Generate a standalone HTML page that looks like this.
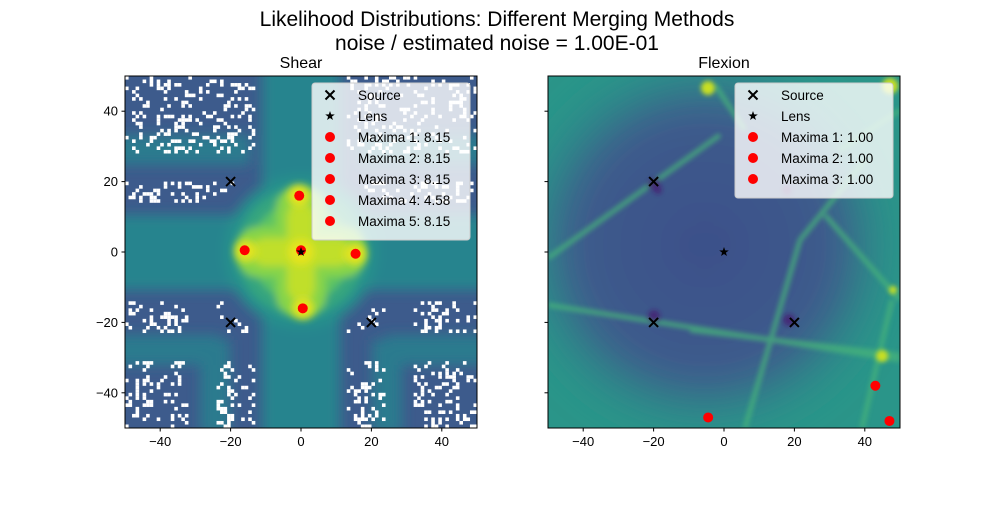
<!DOCTYPE html>
<html><head><meta charset="utf-8"><style>
body{margin:0;background:#fff;font-family:"Liberation Sans","DejaVu Sans",sans-serif}
svg text{font-family:"Liberation Sans","DejaVu Sans",sans-serif}
</style></head><body>
<svg id="fig" width="1000" height="500" xmlns="http://www.w3.org/2000/svg">
<defs>
<filter id="blur6" x="-20%" y="-20%" width="140%" height="140%"><feGaussianBlur stdDeviation="6"/></filter>
<filter id="blur4" x="-20%" y="-20%" width="140%" height="140%"><feGaussianBlur stdDeviation="4"/></filter>
<filter id="blur3" x="-20%" y="-20%" width="140%" height="140%"><feGaussianBlur stdDeviation="2.5"/></filter>
<filter id="blur12" x="-50%" y="-50%" width="200%" height="200%"><feGaussianBlur stdDeviation="14"/></filter>
<clipPath id="clipL"><rect x="125" y="76" width="352" height="352"/></clipPath>
<clipPath id="clipR"><rect x="548" y="76" width="352" height="352"/></clipPath>
<radialGradient id="rg" cx="0.5" cy="0.5" r="0.5"><stop offset="0" stop-color="#3b4f8a"/><stop offset="0.65" stop-color="#3e5c8c"/><stop offset="1" stop-color="#2a8a8a" stop-opacity="0"/></radialGradient>
</defs>
<text x="497" y="26" font-size="21" text-anchor="middle" fill="#000">Likelihood Distributions: Different Merging Methods</text>
<text x="497" y="50" font-size="21" text-anchor="middle" fill="#000">noise / estimated noise = 1.00E-01</text>
<text x="301" y="68" font-size="16" text-anchor="middle">Shear</text>
<text x="724" y="68" font-size="16" text-anchor="middle">Flexion</text>

<g id="left" clip-path="url(#clipL)">
  <rect x="125" y="76" width="352" height="352" fill="#3d5b8c"/>
  <g filter="url(#blur6)">
    <rect x="110" y="215" width="382" height="75" fill="#25848e"/>
    <rect x="262" y="60" width="78" height="385" fill="#25848e"/>
    <rect x="110" y="135" width="140" height="30" fill="#2b7a8e"/>
    <rect x="360" y="135" width="130" height="30" fill="#2b7a8e"/>
    <rect x="110" y="335" width="110" height="30" fill="#2b7a8e"/>
    <rect x="385" y="335" width="110" height="30" fill="#2b7a8e"/>
    <rect x="200" y="340" width="30" height="95" fill="#2b7a8e"/>
    <rect x="372" y="340" width="30" height="95" fill="#2b7a8e"/>
    <circle cx="301" cy="252" r="76" fill="#26928c"/>
  </g>
  <g id="specks"></g>
  <g filter="url(#blur4)">
    <circle cx="301" cy="252" r="64" fill="#35a47f"/>
    <circle cx="301" cy="252" r="50" fill="#5cc364"/>
    <rect x="276" y="187" width="50" height="130" rx="22" fill="#86d449"/>
    <rect x="236" y="227" width="130" height="50" rx="22" fill="#86d449"/>
    <rect x="287" y="204" width="28" height="96" rx="12" fill="#c0df2a"/>
    <rect x="253" y="238" width="96" height="28" rx="12" fill="#c0df2a"/>
  </g>
  <g filter="url(#blur4)" fill="#e6e41c">
    <circle cx="299" cy="196" r="11"/><circle cx="246" cy="251" r="11"/><circle cx="301" cy="252" r="13"/><circle cx="355" cy="254" r="11"/><circle cx="303" cy="308" r="11"/>
  </g>
</g>
<rect x="125" y="76" width="352" height="352" fill="none" stroke="#000" stroke-width="1"/>

<g id="right" clip-path="url(#clipR)">
  <rect x="548" y="76" width="352" height="352" fill="#2a9589"/>
  <circle cx="705" cy="245" r="200" fill="url(#rg)" filter="url(#blur12)"/>
  <g filter="url(#blur3)" stroke="#46b47a" stroke-width="5" fill="none" opacity="0.75">
    <line x1="548" y1="258" x2="720" y2="135"/>
    <line x1="548" y1="305" x2="900" y2="360"/>
    <line x1="690" y1="330" x2="900" y2="355"/>
    <line x1="715" y1="85" x2="745" y2="130"/>
    <line x1="745" y1="428" x2="800" y2="240"/>
    <line x1="800" y1="240" x2="865" y2="160"/>
    <line x1="825" y1="215" x2="900" y2="300"/>
    <line x1="862" y1="428" x2="892" y2="300"/>
    <line x1="840" y1="150" x2="900" y2="110"/>
  </g>
  <g filter="url(#blur3)" fill="#c8df24">
    <circle cx="708" cy="88" r="7"/>
    <circle cx="890" cy="86" r="8"/>
    <circle cx="882" cy="356" r="6"/>
    <circle cx="893" cy="290" r="4"/>
  </g>
  <g filter="url(#blur3)" fill="#46176e" opacity="0.7">
    <circle cx="654" cy="184" r="6"/><circle cx="658" cy="190" r="4"/><circle cx="654" cy="316" r="6"/><circle cx="789" cy="320" r="6"/><circle cx="787" cy="190" r="5"/>
  </g>
</g>
<rect x="548" y="76" width="352" height="352" fill="none" stroke="#000" stroke-width="1"/>

<g id="axesL"></g><g id="axesR"></g><g id="marks"></g>
</svg>
<script>
const tickValues=[-40,-20,0,20,40];
const shearSources=[[-20,20],[-20,-20],[20,-20]];
const shearLens=[[0,0]];
const shearMaxima=[[-0.5,16],[-16,0.5],[0,0.5],[15.5,-0.5],[0.5,-16]];
const shearMaximaValues=["8.15","8.15","8.15","4.58","8.15"];
const flexSources=[[-20,20],[-20,-20],[20,-20]];
const flexLens=[[0,0]];
const flexMaxima=[[-4.5,-47],[43,-38],[47,-48]];
const flexMaximaValues=["1.00","1.00","1.00"];

const NS="http://www.w3.org/2000/svg";
function mk(tag,attrs,parent){const e=document.createElementNS(NS,tag);for(const k in attrs)e.setAttribute(k,attrs[k]);parent.appendChild(e);return e;}
function sx(left,v){return left+(v+50)*3.52;}
function sy(v){return 76+(50-v)*3.52;}

const sp=document.getElementById('specks');
let seed=7;function rnd(){seed=(seed*16807)%2147483647;return seed/2147483647;}
for(let i=0;i<100;i++)for(let j=0;j<100;j++){
  const x=-50+i+0.5,y=50-j-0.5;
  const ax=Math.abs(x),ay=Math.abs(y);
  if(ax<13||ay<14)continue;
  if(Math.hypot(ax,ay)<26)continue;
  if(y>0&&Math.abs(y-24)<4)continue;
  if(y<0&&Math.abs(ay-27)<4)continue;
  if(y<0&&Math.abs(ax-28)<4)continue;
  let p=0.22;
  if(rnd()<p){mk('rect',{x:sx(125,x-0.5),y:sy(y+0.5),width:3.6,height:3.6,fill:'#fff'},sp);}
}

function axes(left,g,labelsY,prefix){
  tickValues.forEach(v=>{
    const x=sx(left,v);
    mk('line',{x1:x,x2:x,y1:428,y2:431.5,stroke:'#000'},g);
    const t=mk('text',{x:x,y:446,'font-size':13,'text-anchor':'middle'},g);t.textContent=v<0?'\u2212'+(-v):v;
    
    
    const y=sy(v);
    mk('line',{x1:left,x2:left-3.5,y1:y,y2:y,stroke:'#000'},g);
    if(labelsY){const u=mk('text',{x:left-7,y:y+4.5,'font-size':13,'text-anchor':'end'},g);u.textContent=v<0?'\u2212'+(-v):v;
      
      }
  });
}
axes(125,document.getElementById('axesL'),true,'shear');
axes(548,document.getElementById('axesR'),false,'flexion');

const m=document.getElementById('marks');
function cross(x,y,g){return mk('path',{d:`M${x-4.5},${y-4.5}L${x+4.5},${y+4.5}M${x-4.5},${y+4.5}L${x+4.5},${y-4.5}`,stroke:'#000','stroke-width':2},g);}
function star(x,y,g,r){r=r||5;let d='';for(let k=0;k<10;k++){const a=-Math.PI/2+k*Math.PI/5,rr=k%2?r*0.4:r;d+=(k?'L':'M')+(x+rr*Math.cos(a)).toFixed(2)+','+(y+rr*Math.sin(a)).toFixed(2);}return mk('path',{d:d+'Z',fill:'#000'},g);}
function panel(left,src,lens,maxima,vals,prefix){
  maxima.forEach(p=>{const c=mk('circle',{cx:sx(left,p[0]),cy:sy(p[1]),r:5,fill:'#ff0000'},m);
    
    });
  src.forEach(p=>{const c=cross(sx(left,p[0]),sy(p[1]),m);
    
    });
  lens.forEach(p=>{const c=star(sx(left,p[0]),sy(p[1]),m);
    
    });
  const lg=mk('g',{},m);
  
  
  const rows=2+vals.length;
  mk('rect',{x:left+187,y:83,width:158,height:rows*21+10,rx:3,fill:'#fff','fill-opacity':0.8,stroke:'#ccc'},lg);
  const entries=[['Source','x'],['Lens','s']].concat(vals.map((v,i)=>['Maxima '+(i+1)+': '+v,'o']));
  entries.forEach((e,i)=>{const y=95+i*21;const mx=left+205;
    if(e[1]=='x')cross(mx,y,lg);else if(e[1]=='s')star(mx,y,lg);else mk('circle',{cx:mx,cy:y,r:5,fill:'#ff0000'},lg);
    const t=mk('text',{x:left+233,y:y+5,'font-size':13.5,fill:'#000'},lg);t.textContent=e[0];
    
    
  });
}
panel(125,shearSources,shearLens,shearMaxima,shearMaximaValues,'shear');
panel(548,flexSources,flexLens,flexMaxima,flexMaximaValues,'flexion');
</script>
</body></html>
